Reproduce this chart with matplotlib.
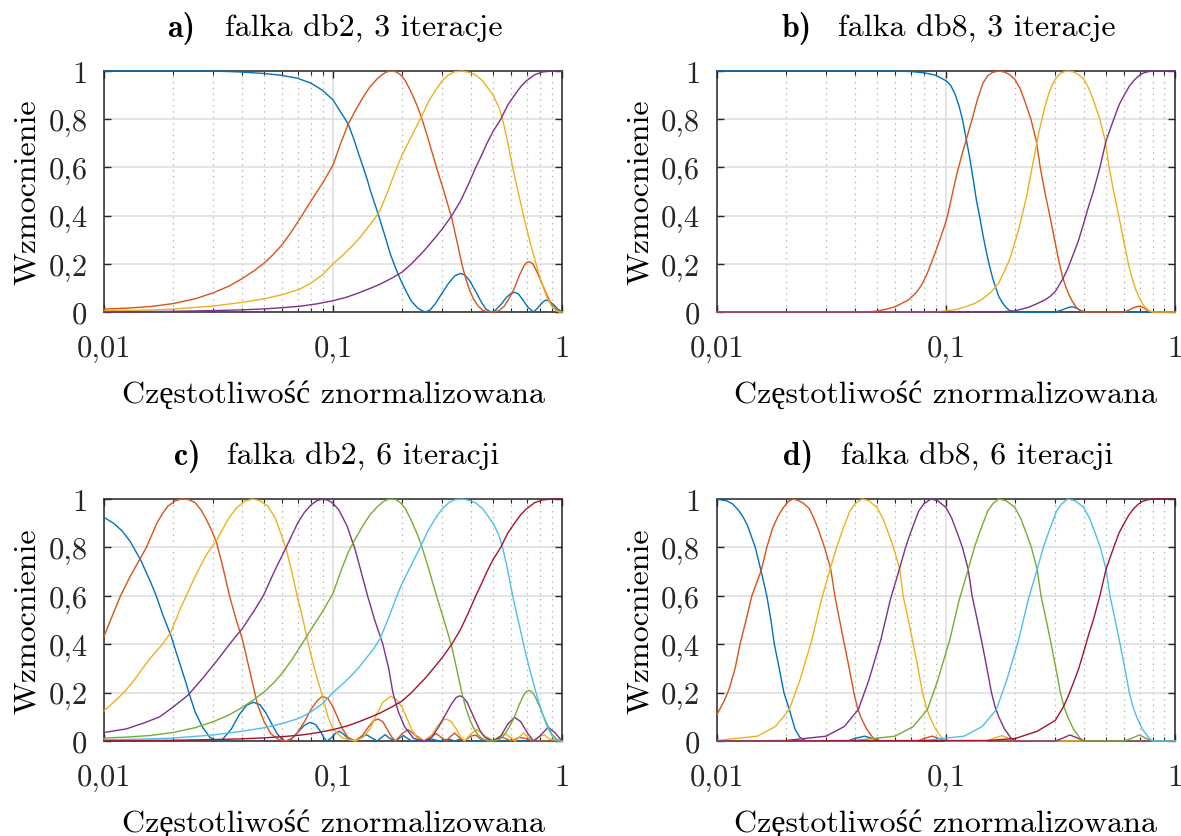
import matplotlib
matplotlib.use("Agg")
import matplotlib.pyplot as plt
from matplotlib.ticker import FixedLocator, NullFormatter

plt.rcParams['mathtext.fontset'] = 'cm'
plt.rcParams['axes.formatter.use_mathtext'] = True
FONT = ['cmr10', 'Liberation Serif']
FONT_BOLD = ['cmb10', 'Liberation Serif']

# kolory MATLAB
COLORS = ['#0072BD', '#D95319', '#EDB120', '#7E2F8E', '#77AC30', '#4DBEEE', '#A2142F']

LETTERS = ['a)', 'b)', 'c)', 'd)']
TITLES = ['falka db2, 3 iteracje', 'falka db8, 3 iteracje',
          'falka db2, 6 iteracji', 'falka db8, 6 iteracji']
XLABEL = 'Częstotliwość znormalizowana'
YLABEL = 'Wzmocnienie'
XTICKS = [0.01, 0.1, 1]
XTICKLABELS = ['0,01', '0,1', '1']
YTICKS = [0, 0.2, 0.4, 0.6, 0.8, 1]
YTICKLABELS = ['0', '0,2', '0,4', '0,6', '0,8', '1']

# ---- a) db2, 3 iteracje: (czestotliwosc, wzmocnienie)
a_blue = [(0.01, 1.0), (0.03, 1.0), (0.04, 0.996), (0.05, 0.99), (0.06, 0.982), (0.07, 0.97),
          (0.08, 0.95), (0.09, 0.92), (0.1, 0.88), (0.108, 0.83), (0.1165, 0.78), (0.123, 0.72),
          (0.13, 0.65), (0.1355, 0.6), (0.141, 0.55), (0.146, 0.5), (0.157, 0.41), (0.168, 0.32),
          (0.178, 0.24), (0.188, 0.18), (0.198, 0.13), (0.21, 0.08), (0.22, 0.045), (0.235, 0.015),
          (0.252, 0.0), (0.265, 0.008), (0.28, 0.035), (0.3, 0.08), (0.32, 0.12), (0.34, 0.15),
          (0.359, 0.16), (0.375, 0.155), (0.395, 0.13), (0.42, 0.085), (0.445, 0.04),
          (0.465, 0.012), (0.49, 0.0), (0.51, 0.006), (0.54, 0.03), (0.57, 0.06), (0.6, 0.078),
          (0.62, 0.082), (0.645, 0.075), (0.675, 0.05), (0.71, 0.02), (0.75, 0.0), (0.78, 0.015),
          (0.82, 0.04), (0.85, 0.05), (0.88, 0.045), (0.92, 0.03), (0.96, 0.012), (1.0, 0.0)]
a_red = [(0.01, 0.012), (0.013, 0.017), (0.016, 0.023), (0.02, 0.035), (0.025, 0.055), (0.03, 0.08),
         (0.035, 0.107), (0.04, 0.138), (0.045, 0.17), (0.05, 0.203), (0.055, 0.24), (0.06, 0.28),
         (0.066, 0.335), (0.0725, 0.395), (0.08, 0.46), (0.09, 0.535), (0.1, 0.61), (0.108, 0.7),
         (0.1165, 0.78), (0.125, 0.835), (0.135, 0.89), (0.145, 0.935), (0.155, 0.965),
         (0.165, 0.988), (0.173, 0.998), (0.18, 1.0), (0.188, 0.997), (0.197, 0.985),
         (0.207, 0.96), (0.22, 0.91), (0.232, 0.86), (0.243, 0.81), (0.26, 0.72), (0.283, 0.6),
         (0.305, 0.5), (0.33, 0.39), (0.35, 0.28), (0.365, 0.2), (0.38, 0.137), (0.395, 0.09),
         (0.41, 0.055), (0.43, 0.025), (0.45, 0.008), (0.47, 0.001), (0.5, 0.0), (0.53, 0.005),
         (0.56, 0.025), (0.59, 0.06), (0.62, 0.1), (0.65, 0.15), (0.68, 0.19), (0.7, 0.205),
         (0.72, 0.209), (0.745, 0.2), (0.77, 0.175), (0.8, 0.14), (0.85, 0.08), (0.9, 0.03),
         (0.95, 0.007), (1.0, 0.0)]
a_yellow = [(0.01, 0.005), (0.015, 0.008), (0.02, 0.012), (0.03, 0.025), (0.04, 0.04), (0.05, 0.055),
            (0.06, 0.072), (0.0717, 0.095), (0.08, 0.12), (0.09, 0.155), (0.1, 0.2), (0.11, 0.235),
            (0.12, 0.27), (0.13, 0.305), (0.14, 0.344), (0.15, 0.38), (0.16, 0.42), (0.175, 0.51),
            (0.19, 0.6), (0.2, 0.65), (0.215, 0.71), (0.243, 0.81), (0.26, 0.87), (0.28, 0.92),
            (0.3, 0.96), (0.32, 0.985), (0.34, 0.997), (0.366, 1.0), (0.39, 0.995), (0.418, 0.985),
            (0.45, 0.96), (0.5, 0.9), (0.53, 0.85), (0.55, 0.8), (0.575, 0.72), (0.6, 0.63),
            (0.625, 0.55), (0.65, 0.48), (0.69, 0.37), (0.73, 0.28), (0.77, 0.2), (0.8, 0.145),
            (0.83, 0.1), (0.86, 0.06), (0.9, 0.025), (0.94, 0.006), (0.97, 0.0), (1.0, 0.0)]
a_purple = [(0.01, 0.0), (0.02, 0.003), (0.03, 0.006), (0.04, 0.009), (0.05, 0.013), (0.06, 0.018),
            (0.0717, 0.024), (0.085, 0.034), (0.1, 0.047), (0.115, 0.062), (0.13, 0.08),
            (0.145, 0.098), (0.16, 0.115), (0.18, 0.14), (0.2, 0.165), (0.22, 0.2), (0.25, 0.255),
            (0.28, 0.31), (0.3, 0.345), (0.33, 0.4), (0.36, 0.46), (0.39, 0.53), (0.42, 0.6),
            (0.445, 0.65), (0.47, 0.7), (0.5, 0.75), (0.54, 0.8), (0.58, 0.86), (0.62, 0.9),
            (0.66, 0.935), (0.7, 0.96), (0.76, 0.985), (0.82, 0.996), (0.9, 1.0), (1.0, 1.0)]

# ---- b) db8, 3 iteracje
b_blue = [(0.01, 1.0), (0.06, 1.0), (0.07, 0.998), (0.08, 0.993), (0.09, 0.983), (0.1, 0.96),
          (0.105, 0.94), (0.11, 0.9), (0.114, 0.855), (0.118, 0.8), (0.123, 0.71), (0.127, 0.64),
          (0.132, 0.54), (0.136, 0.46), (0.14, 0.4), (0.145, 0.32), (0.15, 0.25), (0.155, 0.19),
          (0.16, 0.14), (0.165, 0.1), (0.17, 0.065), (0.176, 0.04), (0.183, 0.018), (0.19, 0.006),
          (0.2, 0.0), (0.3, 0.0), (0.32, 0.008), (0.34, 0.018), (0.355, 0.022), (0.37, 0.017),
          (0.39, 0.005), (0.41, 0.0), (1.0, 0.0)]
b_red = [(0.01, 0.0), (0.045, 0.0), (0.05, 0.004), (0.055, 0.012), (0.06, 0.022), (0.0685, 0.05),
         (0.074, 0.08), (0.078, 0.11), (0.082, 0.15), (0.086, 0.2), (0.09, 0.25), (0.094, 0.3),
         (0.098, 0.35), (0.1016, 0.4), (0.106, 0.48), (0.112, 0.58), (0.118, 0.66), (0.123, 0.72),
         (0.13, 0.8), (0.137, 0.88), (0.145, 0.95), (0.152, 0.98), (0.16, 0.995), (0.17, 1.0),
         (0.18, 0.996), (0.19, 0.985), (0.2, 0.965), (0.21, 0.93), (0.22, 0.88), (0.235, 0.8),
         (0.248, 0.71), (0.258, 0.6), (0.27, 0.5), (0.284, 0.4), (0.298, 0.3), (0.313, 0.2),
         (0.324, 0.14), (0.335, 0.1), (0.345, 0.07), (0.356, 0.045), (0.37, 0.02), (0.385, 0.006),
         (0.4, 0.0), (0.6, 0.0), (0.63, 0.008), (0.66, 0.018), (0.7, 0.025), (0.73, 0.018),
         (0.76, 0.006), (0.8, 0.0), (1.0, 0.0)]
b_yellow = [(0.01, 0.0), (0.09, 0.0), (0.1, 0.005), (0.11, 0.01), (0.12, 0.02), (0.133, 0.035),
            (0.145, 0.055), (0.158, 0.085), (0.17, 0.12), (0.18, 0.17), (0.19, 0.22), (0.2, 0.29),
            (0.21, 0.36), (0.225, 0.48), (0.24, 0.62), (0.255, 0.75), (0.27, 0.85), (0.28, 0.9),
            (0.29, 0.94), (0.3, 0.965), (0.315, 0.99), (0.33, 0.998), (0.344, 1.0), (0.36, 0.997),
            (0.38, 0.985), (0.4, 0.965), (0.42, 0.93), (0.44, 0.88), (0.47, 0.8), (0.496, 0.71),
            (0.516, 0.6), (0.54, 0.5), (0.568, 0.4), (0.596, 0.3), (0.626, 0.2), (0.65, 0.14),
            (0.67, 0.1), (0.69, 0.07), (0.71, 0.045), (0.74, 0.02), (0.77, 0.006), (0.8, 0.0),
            (1.0, 0.0)]
b_purple = [(0.01, 0.0), (0.17, 0.0), (0.2, 0.005), (0.23, 0.02), (0.25, 0.035), (0.27, 0.05),
            (0.285, 0.065), (0.3, 0.085), (0.325, 0.14), (0.34, 0.18), (0.36, 0.24), (0.38, 0.3),
            (0.4, 0.37), (0.42, 0.44), (0.44, 0.5), (0.47, 0.6), (0.5, 0.71), (0.54, 0.8),
            (0.57, 0.86), (0.6, 0.9), (0.63, 0.935), (0.66, 0.96), (0.69, 0.978), (0.72, 0.99),
            (0.76, 0.997), (0.8, 1.0), (1.0, 1.0)]

# ---- c) db2, 6 iteracji
c_blue = [(0.01, 0.924), (0.011, 0.9), (0.012, 0.868), (0.013, 0.825), (0.0145, 0.745),
          (0.016, 0.655), (0.0169, 0.6), (0.018, 0.525), (0.0196, 0.435), (0.021, 0.345),
          (0.0228, 0.24), (0.0237, 0.187), (0.025, 0.12), (0.027, 0.055), (0.029, 0.015),
          (0.0312, 0.0), (0.033, 0.008), (0.036, 0.05), (0.039, 0.11), (0.042, 0.148),
          (0.0449, 0.16), (0.048, 0.15), (0.051, 0.115), (0.054, 0.07), (0.057, 0.03),
          (0.06, 0.006), (0.0625, 0.0), (0.066, 0.01), (0.07, 0.035), (0.075, 0.065),
          (0.0794, 0.077), (0.084, 0.068), (0.088, 0.04), (0.091, 0.015), (0.094, 0.0),
          (0.098, 0.012), (0.102, 0.03), (0.106, 0.04), (0.11, 0.032), (0.116, 0.012),
          (0.125, 0.0), (0.133, 0.015), (0.14, 0.026), (0.148, 0.012), (0.156, 0.0),
          (0.163, 0.015), (0.169, 0.026), (0.176, 0.012), (0.1875, 0.0), (0.195, 0.012),
          (0.203, 0.022), (0.212, 0.01), (0.22, 0.0), (0.25, 0.0), (0.27, 0.008), (0.29, 0.0),
          (0.32, 0.008), (0.34, 0.0), (0.36, 0.008), (0.38, 0.0), (1.0, 0.0)]
c_red = [(0.01, 0.433), (0.011, 0.53), (0.0118, 0.6), (0.013, 0.68), (0.0145, 0.76), (0.0153, 0.8),
         (0.017, 0.9), (0.018, 0.94), (0.019, 0.97), (0.0205, 0.993), (0.0215, 0.999),
         (0.0224, 1.0), (0.0235, 0.997), (0.025, 0.985), (0.0265, 0.955), (0.028, 0.915),
         (0.0295, 0.87), (0.031, 0.82), (0.033, 0.72), (0.0353, 0.6), (0.0378, 0.5),
         (0.0402, 0.42), (0.0435, 0.28), (0.0468, 0.15), (0.05, 0.08), (0.0535, 0.03),
         (0.058, 0.005), (0.0625, 0.0), (0.066, 0.008), (0.07, 0.035), (0.075, 0.08), (0.08, 0.13),
         (0.085, 0.165), (0.0898, 0.185), (0.095, 0.175), (0.1, 0.14), (0.105, 0.095),
         (0.11, 0.05), (0.116, 0.015), (0.125, 0.0), (0.135, 0.025), (0.142, 0.055),
         (0.15, 0.083), (0.157, 0.091), (0.165, 0.08), (0.172, 0.05), (0.18, 0.018),
         (0.1875, 0.0), (0.2, 0.03), (0.213, 0.047), (0.228, 0.025), (0.25, 0.0), (0.268, 0.02),
         (0.283, 0.03), (0.3, 0.012), (0.312, 0.0), (0.327, 0.02), (0.34, 0.033), (0.355, 0.015),
         (0.375, 0.0), (0.4, 0.02), (0.42, 0.025), (0.44, 0.008), (0.5, 0.0), (0.52, 0.01),
         (0.55, 0.015), (0.6, 0.0), (0.65, 0.015), (0.7, 0.01), (0.75, 0.0), (1.0, 0.0)]
c_yellow = [(0.01, 0.125), (0.011, 0.16), (0.0122, 0.2), (0.0135, 0.25), (0.015, 0.31),
            (0.0165, 0.36), (0.018, 0.4), (0.0196, 0.45), (0.0216, 0.55), (0.025, 0.68),
            (0.028, 0.77), (0.031, 0.83), (0.035, 0.92), (0.038, 0.965), (0.041, 0.99),
            (0.0446, 1.0), (0.048, 0.993), (0.052, 0.97), (0.056, 0.92), (0.059, 0.86),
            (0.0624, 0.795), (0.066, 0.7), (0.0697, 0.6), (0.074, 0.5), (0.078, 0.4), (0.084, 0.28),
            (0.089, 0.2), (0.095, 0.1), (0.1, 0.05), (0.11, 0.012), (0.125, 0.0), (0.135, 0.015),
            (0.145, 0.05), (0.155, 0.11), (0.165, 0.16), (0.179, 0.185), (0.19, 0.17), (0.2, 0.14),
            (0.21, 0.095), (0.22, 0.05), (0.232, 0.015), (0.25, 0.0), (0.27, 0.025), (0.285, 0.06),
            (0.3, 0.085), (0.313, 0.091), (0.328, 0.08), (0.345, 0.05), (0.36, 0.018),
            (0.375, 0.0), (0.4, 0.03), (0.426, 0.047), (0.455, 0.025), (0.5, 0.0), (0.535, 0.02),
            (0.565, 0.03), (0.6, 0.012), (0.625, 0.0), (0.655, 0.02), (0.68, 0.033), (0.71, 0.015),
            (0.75, 0.0), (0.8, 0.02), (0.84, 0.025), (0.88, 0.008), (1.0, 0.0)]
c_purple = [(0.01, 0.035), (0.0125, 0.05), (0.015, 0.075), (0.0175, 0.1), (0.02, 0.14),
            (0.0233, 0.19), (0.027, 0.26), (0.031, 0.33), (0.036, 0.41), (0.0402, 0.465),
            (0.045, 0.535), (0.0496, 0.6), (0.056, 0.71), (0.0624, 0.8), (0.07, 0.9),
            (0.075, 0.945), (0.08, 0.975), (0.085, 0.993), (0.09, 1.0), (0.095, 0.995),
            (0.1, 0.982), (0.106, 0.955), (0.115, 0.89), (0.125, 0.79), (0.1415, 0.6),
            (0.152, 0.5), (0.165, 0.4), (0.175, 0.3), (0.1825, 0.2), (0.193, 0.12), (0.205, 0.06),
            (0.225, 0.01), (0.25, 0.0), (0.27, 0.015), (0.29, 0.06), (0.31, 0.11), (0.33, 0.155),
            (0.345, 0.18), (0.358, 0.187), (0.37, 0.18), (0.385, 0.16), (0.4, 0.125), (0.42, 0.08),
            (0.44, 0.04), (0.46, 0.015), (0.5, 0.0), (0.54, 0.02), (0.58, 0.07), (0.62, 0.098),
            (0.66, 0.08), (0.71, 0.03), (0.75, 0.0), (0.8, 0.02), (0.87, 0.057), (0.93, 0.035),
            (1.0, 0.0)]
c_green = a_red        # ta sama krzywa co czerwona na a)
c_cyan = a_yellow      # ta sama krzywa co zolta na a)
c_darkred = a_purple   # ta sama krzywa co fioletowa na a)

# ---- d) db8, 6 iteracji
d_blue = [(0.01, 1.0), (0.011, 0.993), (0.0117, 0.98), (0.0125, 0.95), (0.0131, 0.92),
          (0.0136, 0.89), (0.0142, 0.84), (0.0147, 0.8), (0.0156, 0.7), (0.0165, 0.6),
          (0.0172, 0.5), (0.0178, 0.4), (0.0187, 0.3), (0.0196, 0.2), (0.0207, 0.13),
          (0.0219, 0.05), (0.023, 0.015), (0.0245, 0.0), (0.037, 0.0), (0.04, 0.01), (0.044, 0.02),
          (0.048, 0.01), (0.052, 0.0), (1.0, 0.0)]
d_red = [(0.01, 0.11), (0.0104, 0.14), (0.0108, 0.17), (0.0113, 0.215), (0.012, 0.3), (0.0126, 0.4),
         (0.0134, 0.5), (0.0142, 0.6), (0.0156, 0.705), (0.0165, 0.8), (0.0175, 0.88),
         (0.0185, 0.93), (0.0195, 0.965), (0.0205, 0.99), (0.0215, 1.0), (0.0225, 0.995),
         (0.0238, 0.983), (0.0253, 0.96), (0.0265, 0.92), (0.0278, 0.87), (0.0295, 0.8),
         (0.0314, 0.71), (0.0327, 0.6), (0.0343, 0.5), (0.036, 0.4), (0.0378, 0.3), (0.0396, 0.2),
         (0.041, 0.14), (0.0424, 0.1), (0.045, 0.05), (0.048, 0.013), (0.05, 0.0), (0.075, 0.0),
         (0.08, 0.01), (0.087, 0.02), (0.094, 0.01), (0.1, 0.0), (1.0, 0.0)]
d_yellow = [(0.01, 0.002), (0.015, 0.02), (0.018, 0.06), (0.0207, 0.13), (0.023, 0.25),
            (0.026, 0.42), (0.0285, 0.58), (0.0314, 0.72), (0.0333, 0.8), (0.035, 0.86),
            (0.038, 0.95), (0.04, 0.98), (0.043, 1.0), (0.046, 0.993), (0.05, 0.965), (0.053, 0.92),
            (0.056, 0.86), (0.059, 0.8), (0.0628, 0.71), (0.065, 0.6), (0.0685, 0.5), (0.072, 0.4),
            (0.0755, 0.3), (0.079, 0.2), (0.082, 0.14), (0.085, 0.1), (0.09, 0.05), (0.096, 0.013),
            (0.1, 0.0), (0.15, 0.0), (0.16, 0.01), (0.175, 0.022), (0.19, 0.01), (0.2, 0.0),
            (1.0, 0.0)]
d_purple = [(0.01, 0.0), (0.02, 0.002), (0.03, 0.02), (0.036, 0.06), (0.0414, 0.13), (0.046, 0.25),
            (0.052, 0.42), (0.057, 0.58), (0.063, 0.72), (0.0666, 0.8), (0.07, 0.86),
            (0.076, 0.95), (0.08, 0.98), (0.086, 1.0), (0.092, 0.993), (0.1, 0.965), (0.106, 0.92),
            (0.112, 0.86), (0.118, 0.8), (0.125, 0.71), (0.13, 0.6), (0.137, 0.5), (0.144, 0.4),
            (0.151, 0.3), (0.158, 0.2), (0.164, 0.14), (0.17, 0.1), (0.18, 0.05), (0.192, 0.013),
            (0.2, 0.0), (0.3, 0.0), (0.32, 0.01), (0.348, 0.025), (0.38, 0.01), (0.4, 0.0),
            (1.0, 0.0)]
d_green = [(0.01, 0.0), (0.04, 0.002), (0.06, 0.02), (0.072, 0.06), (0.083, 0.13), (0.092, 0.25),
           (0.104, 0.42), (0.114, 0.58), (0.126, 0.72), (0.133, 0.8), (0.14, 0.86), (0.152, 0.95),
           (0.16, 0.98), (0.17, 1.0), (0.183, 0.993), (0.2, 0.965), (0.212, 0.92), (0.224, 0.86),
           (0.236, 0.8), (0.25, 0.71), (0.26, 0.6), (0.274, 0.5), (0.288, 0.4), (0.302, 0.3),
           (0.316, 0.2), (0.328, 0.14), (0.34, 0.1), (0.36, 0.05), (0.384, 0.013), (0.4, 0.0),
           (0.6, 0.0), (0.65, 0.012), (0.7, 0.025), (0.75, 0.01), (0.8, 0.0), (1.0, 0.0)]
d_cyan = [(0.01, 0.0), (0.08, 0.002), (0.12, 0.02), (0.144, 0.06), (0.166, 0.13), (0.184, 0.25),
          (0.208, 0.42), (0.228, 0.58), (0.252, 0.72), (0.266, 0.8), (0.28, 0.86), (0.304, 0.95),
          (0.32, 0.98), (0.34, 1.0), (0.366, 0.993), (0.4, 0.965), (0.424, 0.92), (0.448, 0.86),
          (0.472, 0.8), (0.5, 0.71), (0.52, 0.6), (0.548, 0.5), (0.576, 0.4), (0.604, 0.3),
          (0.632, 0.2), (0.656, 0.14), (0.68, 0.1), (0.72, 0.05), (0.768, 0.013), (0.8, 0.0),
          (1.0, 0.0)]
d_darkred = [(0.01, 0.0), (0.15, 0.002), (0.2, 0.01), (0.25, 0.04), (0.3, 0.085), (0.325, 0.14),
             (0.34, 0.18), (0.36, 0.24), (0.38, 0.3), (0.4, 0.37), (0.42, 0.44), (0.44, 0.5),
             (0.47, 0.6), (0.5, 0.71), (0.54, 0.8), (0.57, 0.86), (0.6, 0.9), (0.63, 0.935),
             (0.66, 0.96), (0.69, 0.978), (0.72, 0.99), (0.76, 0.997), (0.8, 1.0), (1.0, 1.0)]

PANELS = [
    [a_blue, a_red, a_yellow, a_purple],
    [b_blue, b_red, b_yellow, b_purple],
    [c_blue, c_red, c_yellow, c_purple, c_green, c_cyan, c_darkred],
    [d_blue, d_red, d_yellow, d_purple, d_green, d_cyan, d_darkred],
]

# pozycje osi [lewo, dol, szerokosc, wysokosc] w ulamkach figury
POSITIONS = [
    [0.0881, 0.6260, 0.3878, 0.2879],
    [0.6071, 0.6260, 0.3878, 0.2879],
    [0.0881, 0.1135, 0.3878, 0.2891],
    [0.6071, 0.1135, 0.3878, 0.2891],
]
# polozenie tytulu (x litery, x tekstu, y linii bazowej) we wsp. osi
TITLE_POS = [(0.137, 0.264, 1.144), (0.142, 0.264, 1.144),
             (0.153, 0.269, 1.145), (0.144, 0.271, 1.145)]

FS = 22      # etykiety osi liczbowych
FS_LAB = 23  # opisy osi i tytuly

fig = plt.figure(figsize=(11.81, 8.37), dpi=100)

for pos, curves, lit, tytul, tp in zip(POSITIONS, PANELS, LETTERS, TITLES, TITLE_POS):
    ax = fig.add_axes(pos)
    for i, krzywa in enumerate(curves):
        f, v = zip(*krzywa)
        ax.plot(f, v, color=COLORS[i], linewidth=1.0, zorder=3, clip_on=False)

    ax.set_xscale('log')
    ax.set_xlim(0.01, 1)
    ax.set_ylim(0, 1)

    ax.xaxis.set_major_locator(FixedLocator(XTICKS))
    ax.xaxis.set_minor_locator(FixedLocator([m * d for d in (0.01, 0.1) for m in range(2, 10)]))
    ax.xaxis.set_minor_formatter(NullFormatter())
    ax.set_xticklabels(XTICKLABELS, fontsize=FS, family=FONT)
    ax.set_yticks(YTICKS)
    ax.set_yticklabels(YTICKLABELS, fontsize=FS, family=FONT)

    ax.grid(which='major', color='#dcdcdc', linewidth=1.1, linestyle='-')
    ax.grid(which='minor', axis='x', color='#b4b4b4', linewidth=0.9, linestyle=(0, (1.2, 3.5)))
    ax.set_axisbelow(True)

    ax.tick_params(which='both', direction='in', top=True, right=True, colors='#262626')
    ax.tick_params(which='major', length=5, width=1.0, pad=12)
    ax.tick_params(which='minor', length=3, width=0.8)
    ax.tick_params(axis='x', which='major', pad=16)
    for s in ax.spines.values():
        s.set_color('#262626')
        s.set_linewidth(1.1)

    ax.set_xlabel(XLABEL, fontsize=FS_LAB, family=FONT, labelpad=13)
    ax.set_ylabel(YLABEL, fontsize=FS_LAB, family=FONT, labelpad=5)
    ax.text(tp[0], tp[2], lit, transform=ax.transAxes, fontsize=FS_LAB, family=FONT_BOLD,
            ha='left', va='baseline')
    ax.text(tp[1], tp[2], tytul, transform=ax.transAxes, fontsize=FS_LAB, family=FONT,
            ha='left', va='baseline')

plt.savefig('out.png', dpi=100)
